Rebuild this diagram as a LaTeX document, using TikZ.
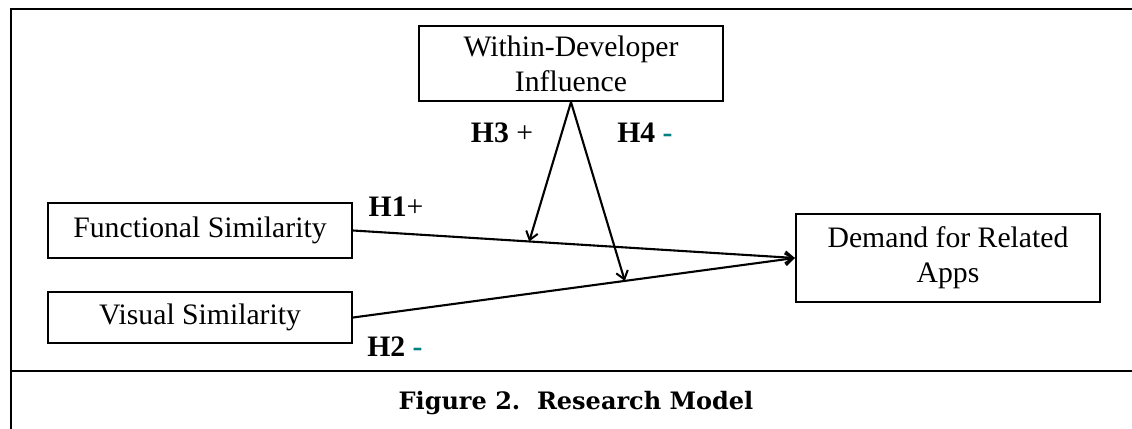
\documentclass[tikz,border=0pt]{standalone}
\usepackage{fontspec}
\setmainfont{Liberation Serif}
\newfontfamily\capfont{DejaVu Serif}
\usetikzlibrary{arrows.meta,calc}
\definecolor{signteal}{RGB}{0,128,128}
\tikzset{
  frameline/.style={line width=1.3pt},
  varbox/.style={draw, line width=1.1pt, rectangle, inner sep=0pt, align=center,
    font=\fontsize{14.85}{17.5}\selectfont},
  path/.style={line width=1.05pt, -{Straight Barb[length=4pt,width=6pt,line width=1pt]}},
  hyp/.style={font=\fontsize{14.85}{17}\selectfont, inner sep=0pt},
}
\begin{document}
\begin{tikzpicture}[x=0.5pt,y=-0.5pt]
\useasboundingbox (0,0) rectangle (1132,429);
% outer frame and caption rule
\draw[frameline] (11,429) -- (11,9) -- (1132,9);
\draw[frameline] (11,371) -- (1132,371);

% constructs
\node[varbox, minimum width=152pt, minimum height=37.5pt] (wd) at (571,63.5)
  {Within-Developer\\Influence};
\node[varbox, minimum width=152pt, minimum height=27.5pt] (fs) at (200,230.5)
  {Functional Similarity};
\node[varbox, minimum width=152pt, minimum height=25.5pt] (vs) at (200,317.5)
  {Visual Similarity};
\node[varbox, minimum width=152pt, minimum height=44pt] (dem) at (948,258)
  {Demand for Related\\Apps};

% main effects
\draw[path] (fs.east) -- (dem.west);
\draw[path] (vs.east) -- (dem.west);

% moderation targets on the main-effect paths
\coordinate (m3) at ($(fs.east)!0.3986!(dem.west)$);
\coordinate (m4) at ($(vs.east)!0.615!(dem.west)$);
\draw[path] (wd.south) -- (m3);
\draw[path] (wd.south) -- (m4);

% hypothesis labels
\node[hyp] (h1) at (396,207) {\textbf{H1}+};
\node[hyp] (h2) at (395,347) {\textbf{H2} {\color{signteal}\textbf{-}}};
\node[hyp] (h3) at (502,133) {\textbf{H3} +};
\node[hyp] (h4) at (645,133) {\textbf{H4} {\color{signteal}\textbf{-}}};

% caption
\node[inner sep=0pt, font=\capfont\bfseries\fontsize{12}{14}\selectfont] (cap) at (576,403)
  {Figure 2.\ \ Research Model};
\end{tikzpicture}
\end{document}
